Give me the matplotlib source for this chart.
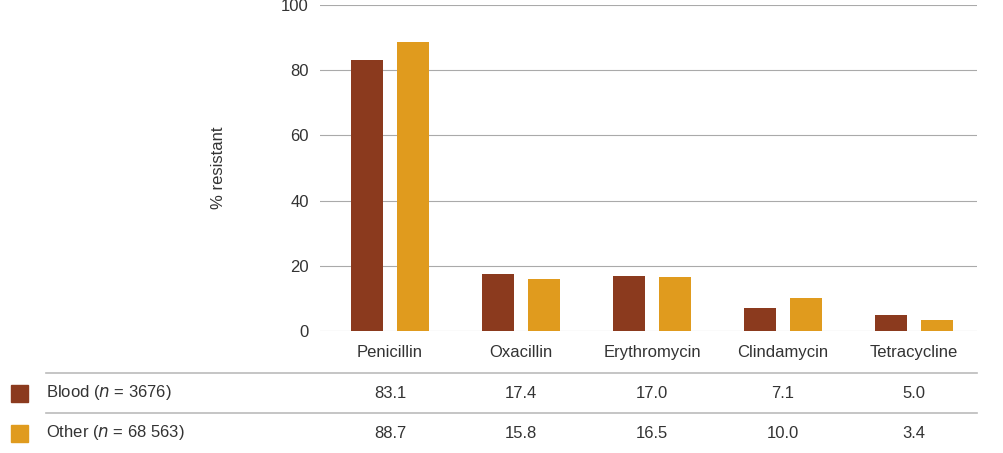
import matplotlib
matplotlib.use("Agg")
import matplotlib.pyplot as plt
import numpy as np

categories = ["Penicillin", "Oxacillin", "Erythromycin", "Clindamycin", "Tetracycline"]
blood = [83.1, 17.4, 17.0, 7.1, 5.0]
other = [88.7, 15.8, 16.5, 10.0, 3.4]
series_labels = ["Blood (", "Other ("]
series_n = ["3676", "68 563"]
yticks = [0, 20, 40, 60, 80, 100]

c_blood = "#8B3A1E"
c_other = "#E09B1E"
tc = "#333333"
plt.rcParams["font.family"] = "Liberation Sans"

W, H = 1004, 453
fig = plt.figure(figsize=(W/100, H/100), dpi=100)
ax = fig.add_axes([320/W, 1-331/H, 657/W, 326/H])
x = np.arange(len(categories))
bw = 0.245
ax.bar(x - 0.176, blood, bw, color=c_blood)
ax.bar(x + 0.176, other, bw, color=c_other)
ax.set_xlim(-0.534, 4.481)
ax.set_ylim(0, 100)
ax.set_yticks(yticks)
ax.set_yticklabels([str(v) for v in yticks], fontsize=12, color=tc)
ax.grid(axis="y", color="#aaaaaa", lw=0.8)
ax.set_axisbelow(True)
for s in ax.spines.values():
    s.set_visible(False)
ax.tick_params(axis="y", length=0, pad=8)
ax.tick_params(axis="x", length=0, pad=10)
ax.set_xticks(x)
ax.set_xticklabels(categories, fontsize=12, color=tc)
ax.set_ylabel("% resistant", fontsize=12, color=tc, labelpad=40)

def fx(px): return px / W
def fy(py): return 1 - py / H

for yy in (373, 413):
    fig.add_artist(plt.Line2D([fx(46), fx(977)], [fy(yy), fy(yy)], color="#bbbbbb", lw=1.2))

rows = [(blood, c_blood, 393), (other, c_other, 433)]
for i, (vals, col, yy) in enumerate(rows):
    fig.add_artist(plt.Rectangle((fx(11), fy(yy + 9)), 17/W, 17/H, color=col))
    fig.text(fx(46), fy(yy), series_labels[i] + "$\\it{n}$ = " + series_n[i] + ")",
             fontsize=12, color=tc, va="center", ha="left")
    for j, v in enumerate(vals):
        xd = ax.transData.transform((j, 0))[0]
        xf = fig.transFigure.inverted().transform((xd, 0))[0]
        fig.text(xf, fy(yy), f"{v:.1f}", fontsize=12, color=tc, va="center", ha="center")

fig.savefig("out.png", dpi=100)
